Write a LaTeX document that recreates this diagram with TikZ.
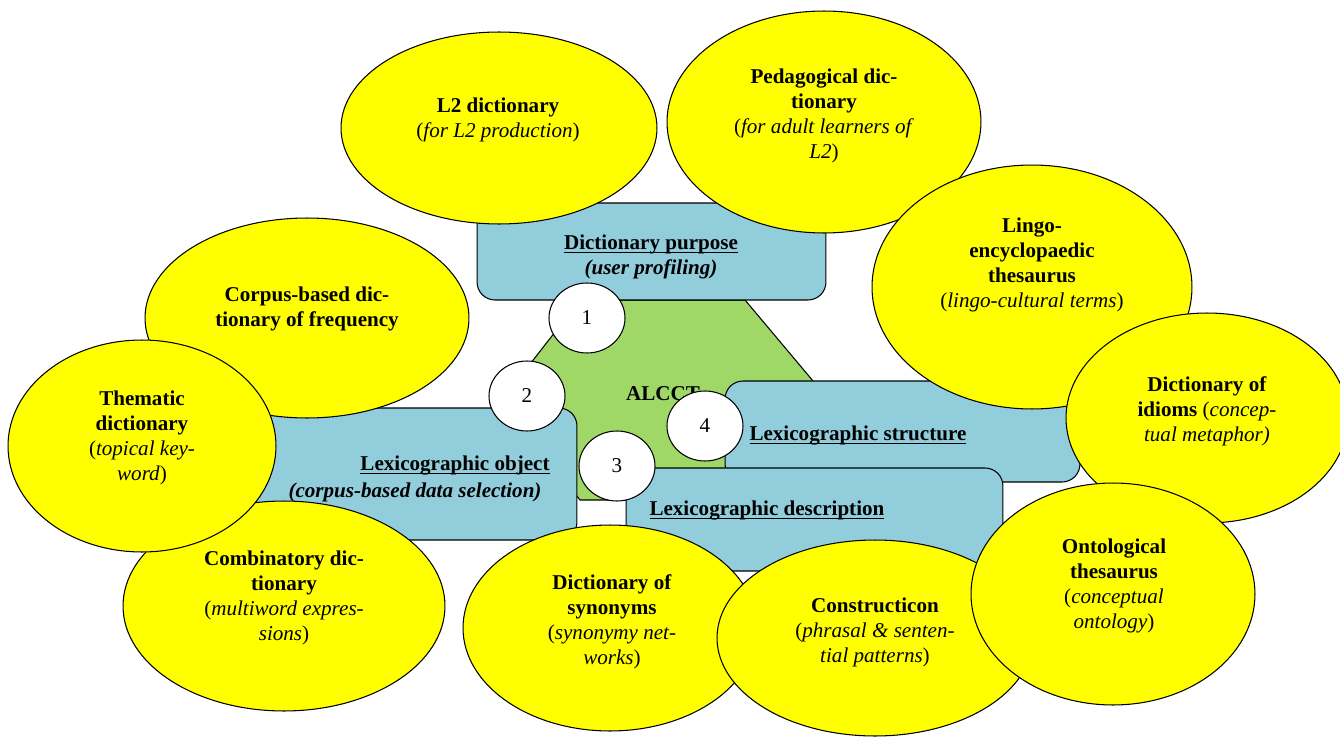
\documentclass[tikz,border=0pt]{standalone}
\usepackage{fontspec}
\setmainfont{Liberation Serif}
\usepackage{tikz}
\usetikzlibrary{shapes.geometric}

\definecolor{dictyellow}{RGB}{255,255,0}
\definecolor{panelblue}{RGB}{146,205,220}
\definecolor{coregreen}{RGB}{160,216,104}

% underline close to the baseline
\newcommand{\uln}[1]{\setbox0\hbox{#1}\rlap{\rule[-1.7pt]{\wd0}{0.6pt}}\box0}

\begin{document}
\begin{tikzpicture}[x=0.02cm, y=-0.02cm, line width=0.6pt,
    font=\fontsize{12}{14.2}\selectfont,
    blob/.style={draw, ellipse, fill=dictyellow, inner sep=0pt},
    blobtext/.style={align=center, inner sep=0pt},
    panel/.style={draw, rectangle, rounded corners=0.36cm, fill=panelblue, inner sep=0pt},
    paneltext/.style={font=\fontsize{12}{14.2}\selectfont\bfseries, inner sep=0pt},
    stage/.style={draw, ellipse, fill=white, minimum width=1.52cm, minimum height=1.4cm, inner sep=0pt}]
  \useasboundingbox[fill=white] (0,0) rectangle (1340,737);

  % Core
  \draw[fill=coregreen] (580,300) -- (745,300) -- (829,400) -- (745,500) -- (580,500) -- (502,400) -- cycle;
  \node[paneltext] (core) at (663,394) {ALCCT};

  % Panels
  \node[panel, minimum width=7.10cm, minimum height=2.02cm] (structure) at (902.5,431.5) {};
  \node[panel, minimum width=7.54cm, minimum height=2.06cm] (description) at (814.5,519.5) {};
  \node[panel, minimum width=6.98cm, minimum height=1.94cm] (purpose) at (651.5,251.5) {};
  \node[panel, minimum width=6.54cm, minimum height=2.64cm] (object) at (413.5,474) {};

  \node[paneltext, align=center] (purpose-text) at (651,257) {\uln{Dictionary purpose}\\\textit{(user profiling)}};
  \node[paneltext] (object-title) at (455,466) {\uln{Lexicographic object}};
  \node[paneltext] (object-note) at (415,492) {\textit{(corpus-based data selection)}};
  \node[paneltext, anchor=west] (structure-title) at (749,436) {\uln{Lexicographic structure}};
  \node[paneltext, anchor=west] (description-title) at (649,511) {\uln{Lexicographic description}};

  % Stages
  \node[stage] (s1) at (587,318) {1};
  \node[stage] (s2) at (527,396) {2};
  \node[stage] (s3) at (617,466) {3};
  \node[stage] (s4) at (705,426) {4};

  % Dictionary types
  \node[blob, minimum width=6.32cm, minimum height=3.84cm] (l2) at (499,128) {};
  \node[blobtext] (l2-text) at (498,120) {\textbf{L2 dictionary}\\(\textit{for L2 production})};

  \node[blob, minimum width=6.28cm, minimum height=4.44cm] (ped) at (824,122) {};
  \node[blobtext] (ped-text) at (824,116) {\textbf{Pedagogical dic-}\\\textbf{tionary}\\(\textit{for adult learners of}\\\textit{L2})};

  \node[blob, minimum width=6.40cm, minimum height=4.88cm] (lingo) at (1032,287) {};
  \node[blobtext] (lingo-text) at (1032,265) {\textbf{Lingo-}\\\textbf{encyclopaedic}\\\textbf{thesaurus}\\(\textit{lingo-cultural terms})};

  \node[blob, minimum width=5.64cm, minimum height=4.20cm] (idioms) at (1207,418) {};
  \node[blobtext] (idioms-text) at (1207,411) {\textbf{Dictionary of}\\\textbf{idioms} (\textit{concep-}\\\textit{tual metaphor)}};

  \node[blob, minimum width=5.88cm, minimum height=4.12cm] (syn) at (610,628) {};
  \node[blobtext] (syn-text) at (612,622) {\textbf{Dictionary of}\\\textbf{synonyms}\\(\textit{synonymy net-}\\\textit{works})};

  \node[blob, minimum width=6.32cm, minimum height=3.92cm] (cxn) at (875,638) {};
  \node[blobtext] (cxn-text) at (875,632) {\textbf{Constructicon}\\(\textit{phrasal \& senten-}\\\textit{tial patterns})};

  \node[blob, minimum width=5.68cm, minimum height=4.44cm] (onto) at (1113,594) {};
  \node[blobtext] (onto-text) at (1114,586) {\textbf{Ontological}\\\textbf{thesaurus}\\(\textit{conceptual}\\\textit{ontology})};

  \node[blob, minimum width=6.48cm, minimum height=4.00cm] (freq) at (307,318) {};
  \node[blobtext] (freq-text) at (307,309) {\textbf{Corpus-based dic-}\\\textbf{tionary of frequency}};

  \node[blob, minimum width=6.44cm, minimum height=4.20cm] (comb) at (284,606) {};
  \node[blobtext] (comb-text) at (284,598) {\textbf{Combinatory dic-}\\\textbf{tionary}\\(\textit{multiword expres-}\\\textit{sions})};

  \node[blob, minimum width=5.36cm, minimum height=4.24cm] (theme) at (142,446) {};
  \node[blobtext] (theme-text) at (142,438) {\textbf{Thematic}\\\textbf{dictionary}\\(\textit{topical key-}\\\textit{word})};
\end{tikzpicture}
\end{document}
